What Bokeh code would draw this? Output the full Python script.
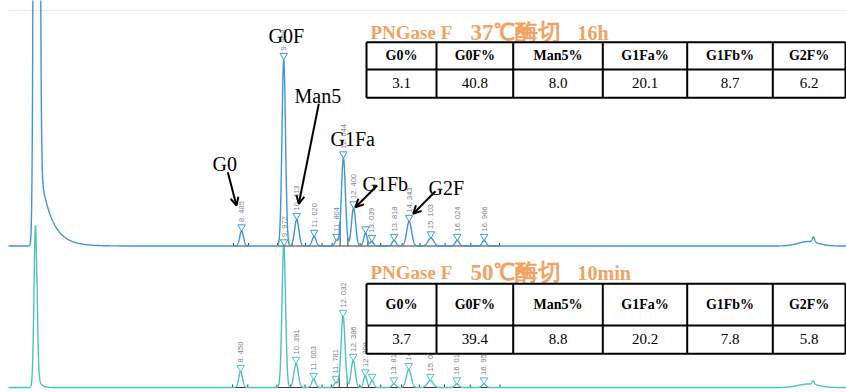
import numpy as np
from bokeh.plotting import figure
from bokeh.models import Range1d, Arrow, OpenHead
from bokeh.core.properties import value
from bokeh.embed import file_html
from bokeh.resources import INLINE

# ---------------- data ----------------
# upper chromatogram: PNGase F 37℃ 16h
up_time   = [1.320, 8.485, 9.958, 9.972, 10.413, 11.020, 11.804, 12.044, 12.400, 12.817, 13.039, 13.818, 14.343, 15.103, 16.024, 16.966, 28.30, 28.48]
up_height = [3000, 15, 186.5, 0, 26.5, 9.5, 5.5, 88, 38, 13, 4.5, 5.5, 24.5, 8, 5.5, 5.5, 4.5, 5]
up_sigma  = [0.06, 0.065, 0.062, 0.06, 0.075, 0.07, 0.06, 0.07, 0.072, 0.06, 0.06, 0.07, 0.085, 0.10, 0.07, 0.07, 0.35, 0.04]
up_label  = ["", "8. 485", "9. 958", "9. 972", "10. 413", "11. 020", "11. 804", "12. 044", "12. 400", "", "13. 039",
             "13. 818", "14. 343", "15. 103", "16. 024", "16. 966", "", ""]
up_mark   = [0, 1, 1, 1, 1, 1, 1, 1, 1, 1, 1, 1, 1, 1, 1, 1, 0, 0]
up_tail   = [1.44, 75, 0.40]          # start, amplitude, decay of solvent tail
up_valley = [8.20, 8.73, 9.74, 10.25, 10.72, 11.30, 11.65, 11.93, 12.20, 12.63, 12.90, 13.35, 14.10, 14.72, 15.60, 16.50, 17.50]

# lower chromatogram: PNGase F 50℃ 10min
lo_time   = [1.278, 8.450, 9.960, 10.391, 11.003, 11.781, 12.032, 12.386, 12.808, 13.050, 13.810, 14.330, 15.080, 16.010, 16.958, 28.30, 28.47]
lo_height = [162, 16, 143, 24, 8, 5, 71, 27, 11.5, 7, 3.5, 18, 7, 3.5, 3.5, 3.5, 3.5]
lo_sigma  = [0.052, 0.065, 0.062, 0.075, 0.07, 0.06, 0.07, 0.072, 0.06, 0.06, 0.07, 0.085, 0.10, 0.07, 0.07, 0.35, 0.04]
lo_label  = ["", "8. 450", "", "10. 391", "11. 003", "11. 781", "12. 032", "12. 386", "12. 808", "", "13. 810",
             "14. 330", "15. 080", "16. 010", "16. 958", "", ""]
lo_mark   = [0, 1, 0, 1, 1, 1, 1, 1, 1, 1, 1, 1, 1, 1, 1, 0, 0]
lo_tail   = [1.33, 15, 0.10]
lo_valley = [8.17, 8.70, 9.72, 10.20, 10.70, 11.30, 11.62, 11.90, 12.18, 12.62, 12.92, 13.35, 14.08, 14.70, 15.58, 16.48, 17.52]

# glycan annotations
glycan_names = ["G0", "G0F", "Man5", "G1Fa", "G1Fb", "G2F"]

# tables
tab_headers = ["G0%", "G0F%", "Man5%", "G1Fa%", "G1Fb%", "G2F%"]
tab1_values = [3.1, 40.8, 8.0, 20.1, 8.7, 6.2]
tab2_values = [3.7, 39.4, 8.8, 20.2, 7.8, 5.8]
title1 = ["PNGase F", "37℃酶切", "16h"]
title2 = ["PNGase F", "50℃酶切", "10min"]

# ---------------- layout / style ----------------
W, H = 846, 392
PX0, PX1 = 0, 846                       # annotation pixel space
T0, T1 = (PX0 + 1.56) / 28.6, (PX1 + 1.56) / 28.6
UP_BASE, LO_BASE = 146.5, 5.0
UP_COL, LO_COL = "#3d97d6", "#4ec3bb"
ORANGE = "#f2a262"
SERIF = value("Liberation Serif")

p = figure(width=W, height=H, x_range=Range1d(T0, T1), y_range=Range1d(0, 392),
           x_axis_location=None, y_axis_location=None, min_border=0,
           outline_line_color=None, toolbar_location=None, output_backend="svg",
           background_fill_color="white", border_fill_color="white")
p.extra_x_ranges = {"px": Range1d(PX0, PX1)}
p.xgrid.visible = False
p.ygrid.visible = False

t = np.linspace((8 + 1.56) / 28.6, T1, 7000)


def build(times, heights, sigmas, tail, base):
    y = np.full_like(t, base)
    for c, h, s in zip(times, heights, sigmas):
        y += h * np.exp(-0.5 * ((t - c) / s) ** 2)
    ts, ta, tt = tail
    y += np.where(t >= ts, ta * np.exp(-(np.clip(t - ts, 0, None)) / tt), 0.0)
    return y


y_up = build(up_time, up_height, up_sigma, up_tail, UP_BASE)
y_lo = build(lo_time, lo_height, lo_sigma, lo_tail, LO_BASE)

# faint top frame line
p.segment(x0=[8], y0=[382], x1=[846], y1=[382], line_color="#ebebeb", line_width=1, x_range_name="px")


def draw_trace(y, color, base, valleys, times, heights, labels, marks, label_color):
    v = valleys
    p.segment(x0=[v[0], v[2]], y0=[base, base], x1=[v[1], v[-1]], y1=[base, base],
              line_color="#3a3a3a", line_width=1)
    yv = np.interp(v, t, y)
    p.segment(x0=v, y0=[base] * len(v), x1=v, y1=list(np.maximum(yv, base + 3)),
              line_color="#3a3a3a", line_width=1)
    p.line(t, y, line_color=color, line_width=1.4)
    mx = [c for c, m in zip(times, marks) if m]
    my = [base + h + 4 for h, m in zip(heights, marks) if m]
    p.scatter(mx, my, marker="inverted_triangle", size=7.5, line_color=color,
              fill_color="white", fill_alpha=0.0, line_width=1)
    lx = [c for c, l in zip(times, labels) if l]
    ly = [base + h + 9 for h, l in zip(heights, labels) if l]
    lt = [l for l in labels if l]
    p.text(lx, ly, text=lt, angle=np.pi / 2, text_align="left", text_baseline="middle",
           text_font=value("Liberation Sans"), text_font_size="7.5px", text_color=label_color)


draw_trace(y_lo, LO_COL, LO_BASE, lo_valley, lo_time, lo_height, lo_label, lo_mark, "#7d7d7d")
draw_trace(y_up, UP_COL, UP_BASE, up_valley, up_time, up_height, up_label, up_mark, "#7a8591")

# glycan names and arrows (reference pixel space: x, y from top)
name_x = [212, 268, 294, 330, 362, 428]
name_y = [163, 35, 95, 138, 183, 187]
p.text(name_x, [392 - y for y in name_y], text=glycan_names, text_align="left",
       text_baseline="alphabetic", text_font=SERIF, text_font_size="20px", text_color="black",
       x_range_name="px")

arrows = [((227.3, 171.7), (236, 205)),
          ((318.3, 103.3), (298.3, 203.3)),
          ((376.7, 185), (355, 206.7)),
          ((435, 190.7), (412.7, 213.3))]
for (xs, ys), (xe, ye) in arrows:
    p.add_layout(Arrow(end=OpenHead(size=8, line_width=2, line_color="black"),
                       x_start=xs, y_start=392 - ys, x_end=xe, y_end=392 - ye,
                       line_width=2, line_color="black", x_range_name="px"))

# titles (three runs each: latin, temperature + CJK, duration)
for title, yb in ((title1, 32), (title2, 272)):
    p.text([370], [392 - yb], text=[title[0]], text_align="left", text_baseline="alphabetic",
           text_font=SERIF, text_font_size="19px", text_font_style="bold", text_color=ORANGE,
           x_range_name="px")
    p.text([470], [392 - yb], text=[title[1]], text_align="left", text_baseline="alphabetic",
           text_font=SERIF, text_font_size="23px", text_font_style="bold", text_color=ORANGE,
           x_range_name="px")
    p.text([577], [392 - yb], text=[title[2]], text_align="left", text_baseline="alphabetic",
           text_font=SERIF, text_font_size="20px", text_font_style="bold", text_color=ORANGE,
           x_range_name="px")

# tables
col_x = [366, 436, 512.7, 602.3, 686.7, 772.3, 845]


def draw_table(rows_y, values):
    top, mid, bot = [392 - r for r in rows_y]
    p.quad(left=[col_x[0]], right=[col_x[-1]], top=[top], bottom=[bot], fill_color="white",
           line_color=None, x_range_name="px")
    p.segment(x0=[col_x[0]] * 3, y0=[top, mid, bot], x1=[col_x[-1]] * 3, y1=[top, mid, bot],
              line_color="black", line_width=2, x_range_name="px")
    p.segment(x0=col_x, y0=[top] * len(col_x), x1=col_x, y1=[bot] * len(col_x),
              line_color="black", line_width=2, x_range_name="px")
    cx = [(a + b) / 2 for a, b in zip(col_x[:-1], col_x[1:])]
    p.text(cx, [(top + mid) / 2 + 0.5] * 6, text=tab_headers, text_align="center",
           text_baseline="middle", text_font=SERIF, text_font_size="14px",
           text_font_style="bold", text_color="black", x_range_name="px")
    p.text(cx, [(mid + bot) / 2 + 1] * 6, text=[f"{v:.1f}" for v in values], text_align="center",
           text_baseline="middle", text_font=SERIF, text_font_size="15px",
           text_color="black", x_range_name="px")


draw_table([41.7, 69, 97.3], tab1_values)
draw_table([283.3, 325, 353.3], tab2_values)

open("out.html", "w").write(file_html(p, INLINE))
